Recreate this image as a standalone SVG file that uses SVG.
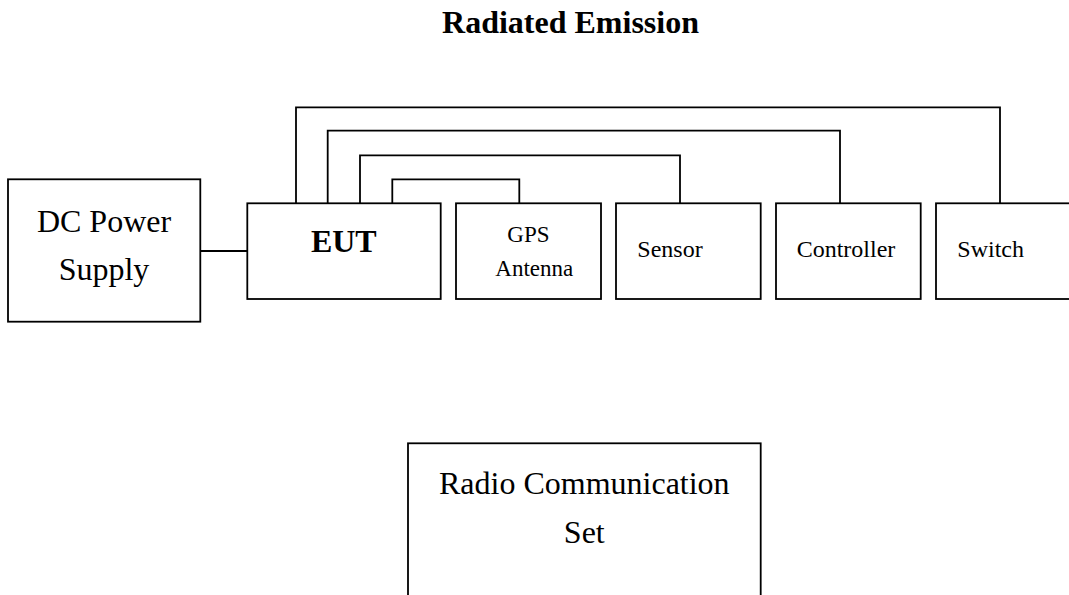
<svg xmlns="http://www.w3.org/2000/svg" width="1069" height="595" viewBox="0 0 1069 595">
<style>
.box{fill:#fff;stroke:#000;stroke-width:1.8}
.wire{fill:none;stroke:#000;stroke-width:1.8}
.big{font-family:"Liberation Serif","Times New Roman",serif;font-size:32px;fill:#000}
.small{font-family:"Liberation Serif","Times New Roman",serif;font-size:24px;fill:#000}
.bold{font-weight:bold}
</style>
<rect width="1069" height="595" fill="#fff"/>
<text class="big bold" x="570.5" y="32.5" text-anchor="middle">Radiated Emission</text>
<g id="connectors">
<path class="wire" d="M200.3 251 H247.3"/>
<path class="wire" d="M296 203.3 V107.3 H1000 V203.3"/>
<path class="wire" d="M327.7 203.3 V130.7 H840 V203.3"/>
<path class="wire" d="M360 203.3 V155.3 H680 V203.3"/>
<path class="wire" d="M392.3 203.3 V179.3 H519.3 V203.3"/>
</g>
<g id="dc-power-supply">
<rect class="box" x="8" y="179.3" width="192.3" height="142.4"/>
<text class="big" x="104" y="231.7" text-anchor="middle">DC Power</text>
<text class="big" x="104" y="280" text-anchor="middle">Supply</text>
</g>
<g id="eut">
<rect class="box" x="247.3" y="203.3" width="193.4" height="95.7"/>
<text class="big bold" x="343.8" y="252.3" text-anchor="middle">EUT</text>
</g>
<g id="gps-antenna">
<rect class="box" x="456" y="203.3" width="145" height="95.7"/>
<text class="small" x="528.4" y="242.3" text-anchor="middle" style="font-size:23px">GPS</text>
<text class="small" x="534.3" y="276" text-anchor="middle" style="font-size:23px">Antenna</text>
</g>
<g id="sensor">
<rect class="box" x="616" y="203.3" width="144.7" height="95.7"/>
<text class="small" x="637.3" y="257.3">Sensor</text>
</g>
<g id="controller">
<rect class="box" x="776" y="203.3" width="144.7" height="95.7"/>
<text class="small" x="796.7" y="257.3">Controller</text>
</g>
<g id="switch">
<rect class="box" x="936" y="203.3" width="145" height="95.7"/>
<text class="small" x="957.3" y="257.3">Switch</text>
</g>
<g id="radio-communication-set">
<rect class="box" x="408" y="443.3" width="352.7" height="170"/>
<text class="big" x="584.3" y="494" text-anchor="middle">Radio Communication</text>
<text class="big" x="584.3" y="542.7" text-anchor="middle">Set</text>
</g>
</svg>
